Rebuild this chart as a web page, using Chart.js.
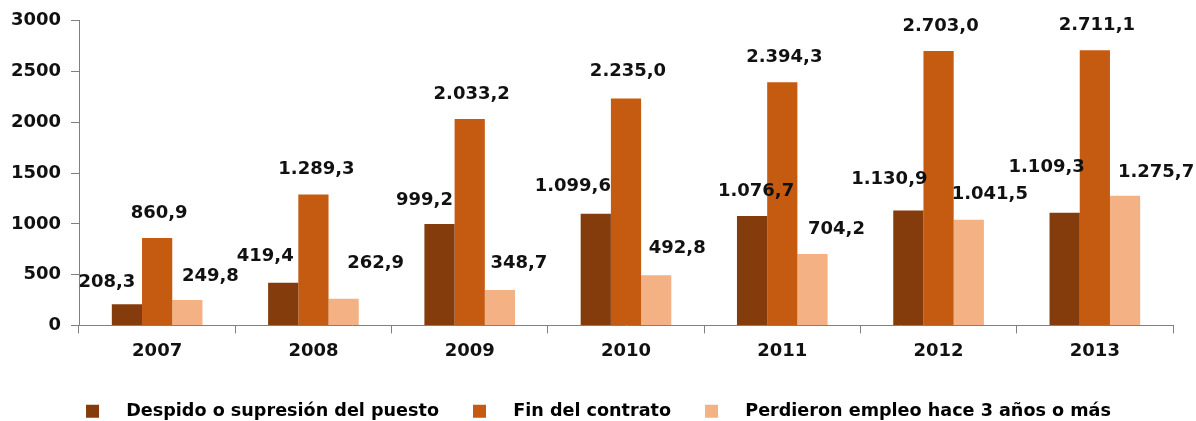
<!DOCTYPE html>
<html>
<head>
<meta charset="utf-8">
<script src="https://cdn.jsdelivr.net/npm/chart.js@4/dist/chart.umd.min.js"></script>
<style>
  html, body { margin: 0; padding: 0; background: #fff; }
  #wrap { width: 1196px; height: 421px; }
</style>
</head>
<body>
<div id="wrap"><canvas id="grafica"></canvas></div>
<script>
const anios = ['2007', '2008', '2009', '2010', '2011', '2012', '2013'];
const despido = [208.3, 419.4, 999.2, 1099.6, 1076.7, 1130.9, 1109.3];
const finContrato = [860.9, 1289.3, 2033.2, 2235.0, 2394.3, 2703.0, 2711.1];
const hace3 = [249.8, 262.9, 348.7, 492.8, 704.2, 1041.5, 1275.7];
const ticksY = [0, 500, 1000, 1500, 2000, 2500, 3000];

// formato español: punto de miles, coma decimal
const fmt = v => {
  const [ent, dec] = v.toFixed(1).split('.');
  return ent.replace(/\B(?=(\d{3})+(?!\d))/g, '.') + ',' + dec;
};

const fuente = '"DejaVu Sans", sans-serif';

// etiquetas encima de cada barra; en el original están movidas a mano,
// así que cada serie lleva su desplazamiento (px) respecto a la barra
const desplX = [
  [-20, -18, -15, -23, 4, -19, -18],
  [2, 3, 2, 2, 2, 2, 2],
  [23, 32, 19, 21, 24, 21, 31],
];
const desplY = [
  [-22, -26, -24, -27, -25, -31, -45],
  [-25, -25, -25, -27, -25, -25, -25],
  [-24, -35, -27, -27, -25, -25, -24],
];
const etiquetas = {
  id: 'etiquetas',
  afterLayout(chart) {
    // centrar la leyenda en el lienzo como en el original
    chart.legend.left += 12;
    chart.legend.right += 12;
  },
  afterDatasetsDraw(chart) {
    const { ctx } = chart;
    ctx.save();
    ctx.font = 'bold 18px ' + fuente;
    ctx.fillStyle = '#111';
    ctx.textAlign = 'center';
    ctx.textBaseline = 'middle';
    chart.data.datasets.forEach((ds, i) => {
      chart.getDatasetMeta(i).data.forEach((bar, j) => {
        ctx.fillText(fmt(ds.data[j]), bar.x + desplX[i][j], bar.y + desplY[i][j]);
      });
    });
    ctx.restore();
  }
};

new Chart(document.getElementById('grafica'), {
  type: 'bar',
  data: {
    labels: anios,
    datasets: [
      { label: 'Despido o supresión del puesto', data: despido, backgroundColor: '#843C0C' },
      { label: 'Fin del contrato', data: finContrato, backgroundColor: '#C55A11' },
      { label: 'Perdieron empleo hace 3 años o más', data: hace3, backgroundColor: '#F4B183' },
    ],
  },
  options: {
    responsive: true,
    maintainAspectRatio: false,
    animation: false,
    layout: { padding: { top: 14, right: 23, left: 0, bottom: -9 } },
    datasets: { bar: { categoryPercentage: 0.58, barPercentage: 1 } },
    plugins: {
      tooltip: { enabled: false },
      legend: {
        position: 'bottom',
        labels: {
          boxWidth: 13,
          boxHeight: 13,
          padding: 34,
          color: '#111',
          font: { family: fuente, size: 17.6, weight: 'bold' },
          generateLabels(chart) {
            return chart.data.datasets.map((ds, i) => ({
              text: '   ' + ds.label,
              fillStyle: ds.backgroundColor,
              strokeStyle: ds.backgroundColor,
              lineWidth: 0,
              datasetIndex: i,
            }));
          },
        },
      },
    },
    scales: {
      x: {
        afterFit(scale) { scale.height = 43; },
        grid: { offset: true, drawOnChartArea: false, tickLength: 8, color: '#808080' },
        border: { color: '#808080', width: 1 },
        ticks: { color: '#111', padding: 7, font: { family: fuente, size: 18, weight: 'bold' } },
      },
      y: {
        min: 0,
        max: 3000,
        afterFit(scale) { scale.width = 79; },
        afterBuildTicks(scale) { scale.ticks = ticksY.map(v => ({ value: v })); },
        grid: { drawOnChartArea: false, tickLength: 8, color: '#808080' },
        border: { color: '#808080', width: 1 },
        ticks: {
          color: '#111',
          padding: 10,
          font: { family: fuente, size: 18, weight: 'bold' },
          callback: v => String(v),
        },
      },
    },
  },
  plugins: [etiquetas],
});
</script>
</body>
</html>
